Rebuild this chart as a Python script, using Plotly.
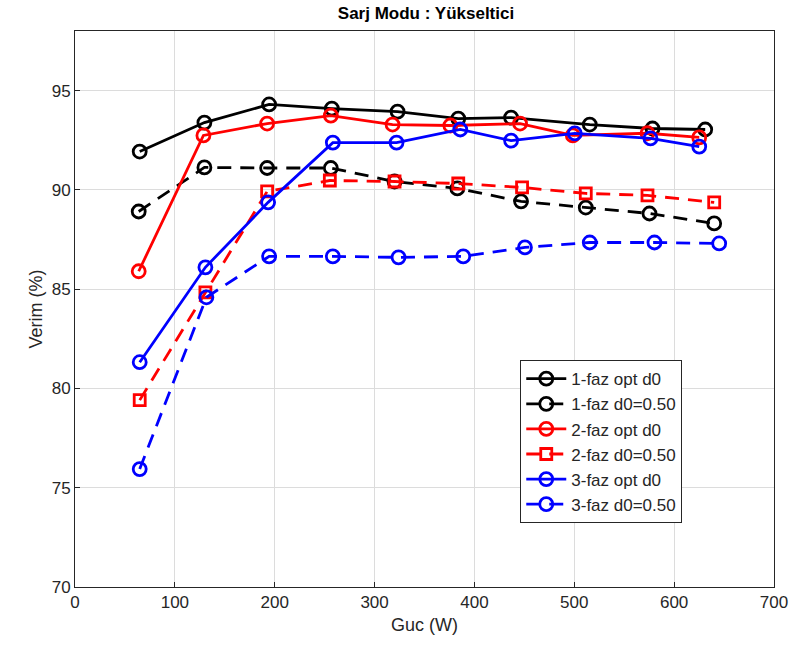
import plotly.graph_objects as go

# Series data (Guc in W, Verim in %)
x_1faz_opt = [64.8, 129.6, 194.4, 257.2, 323.0, 383.8, 436.7, 515.5, 578.3, 631.1]
y_1faz_opt = [91.93, 93.39, 94.30, 94.09, 93.94, 93.59, 93.64, 93.29, 93.09, 93.04]

x_1faz_d05 = [63.8, 129.6, 192.4, 256.2, 320.0, 382.9, 446.7, 511.5, 575.3, 640.1]
y_1faz_d05 = [88.91, 91.13, 91.10, 91.10, 90.42, 90.07, 89.42, 89.11, 88.81, 88.31]

x_2faz_opt = [63.8, 128.6, 192.4, 256.2, 318.0, 375.9, 445.7, 498.5, 573.3, 625.1]
y_2faz_opt = [85.90, 92.74, 93.34, 93.74, 93.29, 93.24, 93.34, 92.74, 92.85, 92.64]

x_2faz_d05 = [64.8, 130.6, 192.4, 255.2, 320.0, 383.8, 447.7, 511.5, 573.3, 640.1]
y_2faz_d05 = [79.41, 84.84, 89.92, 90.47, 90.42, 90.32, 90.12, 89.82, 89.72, 89.37]

x_3faz_opt = [64.8, 130.6, 193.4, 258.2, 322.0, 385.8, 436.7, 500.5, 576.3, 625.1]
y_3faz_opt = [81.32, 86.10, 89.37, 92.38, 92.38, 93.04, 92.48, 92.84, 92.59, 92.18]

x_3faz_d05 = [64.8, 131.6, 194.4, 258.2, 324.0, 388.8, 450.6, 515.5, 580.3, 645.1]
y_3faz_d05 = [75.94, 84.59, 86.65, 86.65, 86.60, 86.65, 87.10, 87.35, 87.35, 87.30]

names = ["1-faz opt d0", "1-faz d0=0.50", "2-faz opt d0", "2-faz d0=0.50",
         "3-faz opt d0", "3-faz d0=0.50"]
xs = [x_1faz_opt, x_1faz_d05, x_2faz_opt, x_2faz_d05, x_3faz_opt, x_3faz_d05]
ys = [y_1faz_opt, y_1faz_d05, y_2faz_opt, y_2faz_d05, y_3faz_opt, y_3faz_d05]
colors = ["#000000", "#000000", "#ff0000", "#ff0000", "#0000ff", "#0000ff"]
dashes = ["solid", "14px,9px", "solid", "14px,9px", "solid", "14px,9px"]
symbols = ["circle-open", "circle-open", "circle-open", "square-open",
           "circle-open", "circle-open"]
sizes = [13, 13, 13, 11, 13, 13]

fig = go.Figure()
for n, x, y, c, d, s, sz in zip(names, xs, ys, colors, dashes, symbols, sizes):
    fig.add_trace(go.Scatter(
        x=x, y=y, name=n, mode="lines+markers",
        line=dict(color=c, width=2.8, dash=d),
        marker=dict(symbol=s, size=sz, color=c, line=dict(color=c, width=2.8)),
    ))

font_family = "Liberation Sans, Arial, sans-serif"
fig.update_layout(
    width=800, height=659,
    margin=dict(l=75, r=23, t=31, b=72),
    paper_bgcolor="white", plot_bgcolor="white",
    font=dict(family=font_family, size=17, color="#262626"),
    title=dict(text="<b>Sarj Modu : Yükseltici</b>", x=(75 + 777) / 2 / 800,
               xanchor="center", y=1 - 13 / 659, yanchor="middle",
               font=dict(size=17, color="#000000", family=font_family)),
    showlegend=True,
    legend=dict(x=0.637, y=0.408, xanchor="left", yanchor="top",
                bgcolor="white", bordercolor="#262626", borderwidth=1,
                font=dict(size=17, color="#262626", family=font_family),
                tracegroupgap=0, itemwidth=40),
)
fig.update_xaxes(
    range=[0, 700], dtick=100, tick0=0,
    title=dict(text="Guc (W)", font=dict(size=18), standoff=6),
    showgrid=True, gridcolor="#dcdcdc", gridwidth=1,
    showline=True, linecolor="#262626", linewidth=1, mirror=True,
    ticks="inside", ticklen=5, tickcolor="#262626", zeroline=False,
    tickfont=dict(size=17),
)
fig.update_yaxes(
    range=[70, 98], dtick=5, tick0=70,
    title=dict(text="Verim (%)", font=dict(size=18), standoff=4),
    showgrid=True, gridcolor="#dcdcdc", gridwidth=1,
    showline=True, linecolor="#262626", linewidth=1, mirror=True,
    ticks="inside", ticklen=5, tickcolor="#262626", zeroline=False,
    tickfont=dict(size=17),
)

fig.write_html("out.html")
